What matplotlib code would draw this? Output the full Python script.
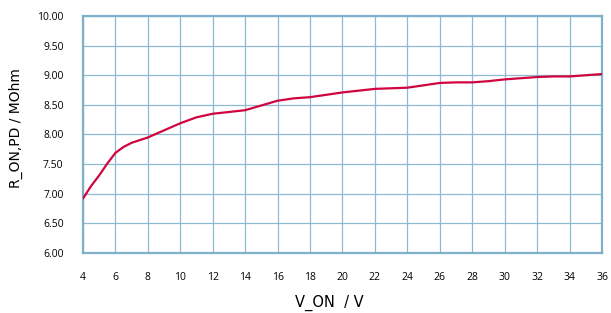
import numpy as np
import matplotlib.pyplot as plt

# Werte
v_on = [4, 4.5, 5, 5.5, 6, 6.5, 7, 8, 9, 10, 11, 12, 13, 14, 15, 16, 17, 18, 19, 20,
        21, 22, 23, 24, 25, 26, 27, 28, 29, 30, 31, 32, 33, 34, 35, 36]
r_on = [6.92, 7.13, 7.31, 7.51, 7.69, 7.79, 7.86, 7.95, 8.07, 8.19, 8.29, 8.35,
        8.38, 8.41, 8.49, 8.57, 8.61, 8.63, 8.67, 8.71, 8.74, 8.77, 8.78, 8.79,
        8.83, 8.87, 8.88, 8.88, 8.90, 8.93, 8.95, 8.97, 8.98, 8.98, 9.00, 9.02]

x_ticks = np.arange(4, 37, 2)
y_ticks = np.arange(6.0, 10.01, 0.5)

grid_col = '#8dbad0'
spine_col = '#7fb0c9'
line_col = '#d0053f'

fig = plt.figure(figsize=(6.11, 3.13), dpi=100)
ax = fig.add_axes([0.1358, 0.1917, 0.8495, 0.7572])

ax.plot(v_on, r_on, color=line_col, lw=1.6, solid_capstyle='round',
        solid_joinstyle='round', zorder=3)

ax.set_xlim(4, 36)
ax.set_ylim(6, 10)
ax.set_xticks(x_ticks)
ax.set_yticks(y_ticks)
ax.set_xticklabels([str(t) for t in x_ticks], fontsize=7.5, family='Open Sans')
ax.set_yticklabels([f'{t:.2f}' for t in y_ticks], fontsize=7.5, family='Open Sans')
ax.tick_params(length=0)
ax.tick_params(axis='x', pad=14)
ax.tick_params(axis='y', pad=14)

ax.grid(True, color=grid_col, lw=0.9)
ax.set_axisbelow(True)
for side in ['left', 'bottom', 'top', 'right']:
    ax.spines[side].set_color(spine_col)
    ax.spines[side].set_linewidth(1.6)

ax.set_xlabel('V_ON  / V', fontsize=10.5)
ax.xaxis.set_label_coords(0.475, -0.175)
ax.set_ylabel('R_ON,PD / MOhm', fontsize=10)
ax.yaxis.set_label_coords(-0.115, 0.527)

fig.savefig('out.png', dpi=100)
